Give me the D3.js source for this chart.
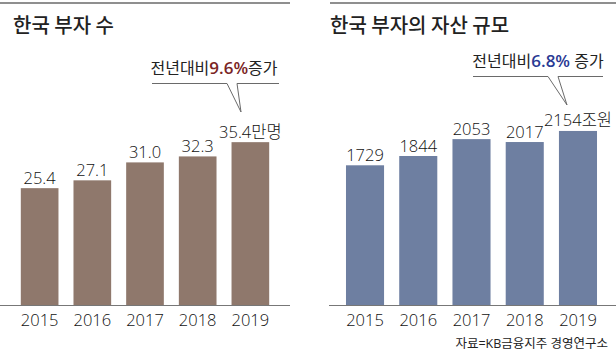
<!DOCTYPE html>
<html><head><meta charset="utf-8">
<script src="https://cdn.jsdelivr.net/npm/d3@7"></script>
<style>
html,body{margin:0;padding:0;background:#fff;}
svg{display:block;font-family:"Open Sans","Noto Sans CJK KR","Noto Sans",sans-serif;}
</style></head>
<body>
<svg id="c" width="616" height="356"></svg>
<script>
const years = ["2015","2016","2017","2018","2019"];
const richCount = [25.4, 27.1, 31.0, 32.3, 35.4];
const richCountLabels = ["25.4","27.1","31.0","32.3","35.4만명"];
const assets = [1729, 1844, 2053, 2017, 2154];
const assetLabels = ["1729","1844","2053","2017","2154조원"];
const titles = ["한국 부자 수", "한국 부자의 자산 규모"];
const growthLeft = ["전년대비", "9.6%", "증가"];
const growthRight = ["전년대비", "6.8%", " 증가"];
const source = "자료=KB금융지주 경영연구소";

const svg = d3.select("#c");
const textColor = "#111";
const fontFam = "'Open Sans','Noto Sans CJK KR','Noto Sans',sans-serif";

function panel(opts){
  const g = svg.append("g");
  g.append("line").attr("x1",opts.ruleX[0]).attr("x2",opts.ruleX[1])
    .attr("y1",3).attr("y2",3).attr("stroke","#6a6a6a").attr("stroke-width",1.5);
  g.append("text").attr("x",opts.titleX).attr("y",33)
    .attr("font-family","'Noto Sans CJK KR',sans-serif")
    .attr("font-size",20).attr("font-weight",500).attr("fill","#222")
    .text(opts.title);

  const x = d3.scaleBand().domain(years).range(opts.xRange)
    .paddingInner(0.285).paddingOuter(0.1425);
  const y = d3.scaleLinear().domain(opts.yDomain).range([305, opts.yTop]);

  g.selectAll("rect.bar").data(opts.values).join("rect")
    .attr("class","bar")
    .attr("x",(d,i)=>x(years[i])).attr("width",x.bandwidth())
    .attr("y",d=>y(d)).attr("height",d=>y(0)-y(d))
    .attr("fill",opts.color);

  g.selectAll("text.val").data(opts.values).join("text")
    .attr("class","val")
    .attr("x",(d,i)=>x(years[i])+x.bandwidth()/2)
    .attr("y",d=>y(d)-4.5)
    .attr("text-anchor","middle").attr("font-size",16.5).attr("font-weight",300).attr("fill",textColor)
    .text((d,i)=>opts.labels[i]);

  g.append("line").attr("x1",opts.baseX[0]).attr("x2",opts.baseX[1])
    .attr("y1",305.5).attr("y2",305.5).attr("stroke","#777").attr("stroke-width",1);

  const axis = d3.axisBottom(x).tickSize(0).tickPadding(9);
  const ag = g.append("g").attr("transform","translate(0,305)").call(axis);
  ag.select(".domain").remove();
  ag.selectAll("text").attr("font-size",16.5).attr("font-weight",300).attr("fill",textColor)
    .attr("font-family",fontFam);

  const c = opts.callout;
  const t = g.append("text").attr("x",c.textX).attr("y",c.textY)
    .attr("text-anchor","middle").attr("font-size",16).attr("font-weight",400).attr("fill","#222");
  t.append("tspan").text(c.parts[0]);
  t.append("tspan").attr("fill",c.hi).attr("font-weight",600).attr("font-size",17).text(c.parts[1]);
  t.append("tspan").text(c.parts[2]);

  g.append("path")
    .attr("d",`M${c.lineX[0]},${c.lineY}H${c.gap[0]}L${c.tip[0]},${c.tip[1]}L${c.gap[1]},${c.lineY}H${c.lineX[1]}`)
    .attr("fill","none").attr("stroke","#6a6a6a").attr("stroke-width",1);
}

panel({
  ruleX:[0,290], titleX:13, title:titles[0],
  xRange:[13.3,276.7], yDomain:[0,40], yTop:305-184,
  values:richCount, labels:richCountLabels, color:"#8f786c",
  baseX:[0,290],
  callout:{textX:214,textY:74,parts:growthLeft,hi:"#7a2525",
    lineX:[152,279],lineY:83.5,gap:[227,237],tip:[241,112]}
});

panel({
  ruleX:[330,616], titleX:330, title:titles[1],
  xRange:[338.4,604.6], yDomain:[0,2500], yTop:305-202,
  values:assets, labels:assetLabels, color:"#6e7fa1",
  baseX:[329,616],
  callout:{textX:538,textY:67,parts:growthRight,hi:"#2a3a94",
    lineX:[473,603],lineY:76.5,gap:[548,558],tip:[567,105]}
});

svg.append("text").attr("x",608).attr("y",348).attr("text-anchor","end")
  .attr("font-size",12.5).attr("font-weight",400).attr("fill","#222").text(source);
</script>
</body></html>
